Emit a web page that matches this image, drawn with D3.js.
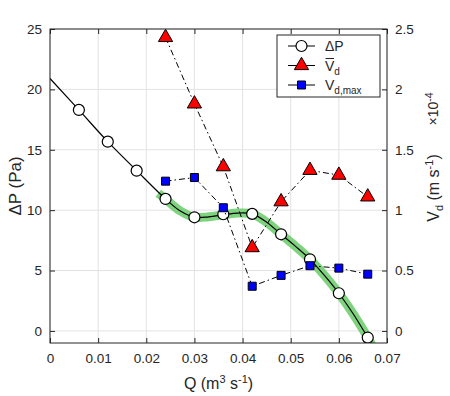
<!DOCTYPE html>
<html><head><meta charset="utf-8">
<script src="https://cdn.jsdelivr.net/npm/d3@7"></script>
<style>body{margin:0;background:#fff}svg{display:block}text{font-family:"Liberation Sans",Arial,Helvetica,sans-serif;fill:#262626}</style>
</head><body><div id="c"></div>
<script>
// ---- data ----
const Q = [0.006,0.012,0.018,0.024,0.030,0.036,0.042,0.048,0.054,0.060,0.066];
const dP = [18.3,15.67,13.27,10.93,9.41,9.66,9.69,8.0,5.93,3.12,-0.55];
const Qv = [0.024,0.030,0.036,0.042,0.048,0.054,0.060,0.066];
const VdMean = [2.43,1.88,1.36,0.69,1.07,1.33,1.29,1.11];
const VdMax = [1.24,1.27,1.02,0.37,0.46,0.54,0.52,0.47];
// fitted curve
const fitQ = [0,0.006,0.012,0.018,0.024,0.027,0.030,0.033,0.036,0.039,0.042,0.045,0.048,0.051,0.054,0.057,0.060,0.063,0.066];
const fitP = [20.9,18.3,15.67,13.27,10.93,9.95,9.41,9.45,9.62,9.76,9.69,9.0,8.0,7.0,5.93,4.6,3.12,1.4,-0.55];
const bandQ = [0.0225,0.024,0.027,0.030,0.033,0.036,0.039,0.042,0.045,0.048,0.051,0.054,0.057,0.060,0.063,0.066,0.068];
const bandP = [11.4,10.93,9.95,9.41,9.45,9.62,9.76,9.69,9.0,8.0,7.0,5.93,4.6,3.12,1.4,-0.55,-2.0];
const xTicks = [0,0.01,0.02,0.03,0.04,0.05,0.06,0.07];
const yTicksL = [0,5,10,15,20,25];
const yTicksR = [0,0.5,1,1.5,2,2.5];

const W=450,H=396, m={l:50,r:63,t:29,b:53};
const svg=d3.select("#c").append("svg").attr("width",W).attr("height",H);
const x=d3.scaleLinear().domain([0,0.07]).range([m.l,W-m.r]);
const yL=d3.scaleLinear().domain([-1,25]).range([H-m.b,m.t]);
const yR=d3.scaleLinear().domain([-0.1,2.5]).range([H-m.b,m.t]);
const ax="#262626";

// grid
const g=svg.append("g");
g.selectAll(".gx").data(xTicks).join("line").attr("x1",d=>x(d)).attr("x2",d=>x(d)).attr("y1",m.t).attr("y2",H-m.b).attr("stroke","#e3e3e3");
g.selectAll(".gy").data(yTicksL).join("line").attr("y1",d=>yL(d)).attr("y2",d=>yL(d)).attr("x1",m.l).attr("x2",W-m.r).attr("stroke","#e3e3e3");

svg.append("clipPath").attr("id","cp").append("rect").attr("x",m.l).attr("y",m.t).attr("width",W-m.l-m.r).attr("height",H-m.t-m.b);
const plot=svg.append("g").attr("clip-path","url(#cp)");

const lineL=d3.line().x(d=>x(d[0])).y(d=>yL(d[1])).curve(d3.curveCatmullRom);
plot.append("path").attr("d",lineL(d3.zip(bandQ,bandP))).attr("fill","none").attr("stroke","#7fd37f").attr("stroke-width",9).attr("stroke-linecap","butt");
plot.append("path").attr("d",lineL(d3.zip(fitQ,fitP))).attr("fill","none").attr("stroke","#000").attr("stroke-width",1.2);
plot.selectAll(".c").data(d3.zip(Q,dP)).join("circle").attr("cx",d=>x(d[0])).attr("cy",d=>yL(d[1])).attr("r",5.5).attr("fill","#fff").attr("stroke","#000").attr("stroke-width",1.2);

const lineR=d3.line().x(d=>x(d[0])).y(d=>yR(d[1]));
const dash="6,3,1.5,3";
plot.append("path").attr("d",lineR(d3.zip(Qv,VdMean))).attr("fill","none").attr("stroke","#000").attr("stroke-width",1).attr("stroke-dasharray",dash);
plot.append("path").attr("d",lineR(d3.zip(Qv,VdMax))).attr("fill","none").attr("stroke","#000").attr("stroke-width",1).attr("stroke-dasharray",dash);
const tri=d3.symbol().type(d3.symbolTriangle).size(88);
const sq=d3.symbol().type(d3.symbolSquare).size(64);
plot.selectAll(".t").data(d3.zip(Qv,VdMean)).join("path").attr("d",tri).attr("transform",d=>`translate(${x(d[0])},${yR(d[1])})`).attr("fill","#f00").attr("stroke","#000").attr("stroke-width",1);
plot.selectAll(".s").data(d3.zip(Qv,VdMax)).join("path").attr("d",sq).attr("transform",d=>`translate(${x(d[0])},${yR(d[1])})`).attr("fill","#00f").attr("stroke","#000").attr("stroke-width",1);

// axes box
const tl=5;
svg.append("rect").attr("x",m.l).attr("y",m.t).attr("width",W-m.l-m.r).attr("height",H-m.t-m.b).attr("fill","none").attr("stroke",ax).attr("stroke-width",1);
const xa=d3.axisBottom(x).tickValues(xTicks).tickSizeInner(-tl).tickSizeOuter(0).tickPadding(10).tickFormat(d=>d===0?"0":d3.format(".2f")(d));
svg.append("g").attr("transform",`translate(0,${H-m.b})`).call(xa);
svg.append("g").attr("transform",`translate(0,${m.t})`).call(d3.axisTop(x).tickValues(xTicks).tickSizeInner(-tl).tickSizeOuter(0).tickFormat(""));
svg.append("g").attr("transform",`translate(${m.l},0)`).call(d3.axisLeft(yL).tickValues(yTicksL).tickSizeInner(-tl).tickSizeOuter(0).tickPadding(8));
svg.append("g").attr("transform",`translate(${W-m.r},0)`).call(d3.axisRight(yR).tickValues(yTicksR).tickSizeInner(-tl).tickSizeOuter(0).tickPadding(8).tickFormat(d=>String(d)));
svg.selectAll(".domain").remove();
svg.selectAll(".tick line").attr("stroke",ax);
svg.selectAll(".tick text").style("font-size","13.5px").attr("fill",ax);

// axis labels
svg.append("text").attr("x",(m.l+W-m.r)/2).attr("y",389).attr("text-anchor","middle").style("font-size","16px")
 .html('Q (m<tspan dy="-6" font-size="11px">3</tspan><tspan dy="6"> s</tspan><tspan dy="-6" font-size="11px">-1</tspan><tspan dy="6">)</tspan>');
svg.append("text").attr("transform",`translate(21,${(m.t+H-m.b)/2}) rotate(-90)`).attr("text-anchor","middle").style("font-size","17px").text("ΔP (Pa)");
svg.append("text").attr("transform",`translate(439,188) rotate(-90)`).attr("text-anchor","middle").style("font-size","16px")
 .html('V<tspan dy="4" font-size="11px">d</tspan><tspan dy="-4"> (m s</tspan><tspan dy="-6" font-size="11px">-1</tspan><tspan dy="6">)</tspan>');
svg.append("text").attr("transform",`translate(438,109) rotate(-90)`).attr("text-anchor","middle").style("font-size","14px")
 .html('×10<tspan dy="-5" font-size="10.5px">-4</tspan>');

// legend
const lg=svg.append("g");
lg.append("rect").attr("x",277).attr("y",35).attr("width",103).attr("height",62).attr("fill","#fff").attr("stroke",ax).attr("stroke-width",1);
const rows=[46,65.5,85];
rows.forEach(r=>lg.append("line").attr("x1",288).attr("x2",315).attr("y1",r).attr("y2",r).attr("stroke","#000").attr("stroke-width",1));
lg.append("circle").attr("cx",301.5).attr("cy",rows[0]).attr("r",5.5).attr("fill","#fff").attr("stroke","#000").attr("stroke-width",1.2);
lg.append("path").attr("d",tri).attr("transform",`translate(301.5,${rows[1]})`).attr("fill","#f00").attr("stroke","#000");
lg.append("path").attr("d",sq).attr("transform",`translate(301.5,${rows[2]})`).attr("fill","#00f").attr("stroke","#000");
lg.append("text").attr("x",325).attr("y",rows[0]+5).style("font-size","14px").text("ΔP");
lg.append("text").attr("x",325).attr("y",rows[1]+5).style("font-size","14px").html('V<tspan dy="4" font-size="10px">d</tspan>');
lg.append("line").attr("x1",325.5).attr("x2",334).attr("y1",rows[1]-7).attr("y2",rows[1]-7).attr("stroke",ax).attr("stroke-width",1);
lg.append("text").attr("x",325).attr("y",rows[2]+5).style("font-size","14px").html('V<tspan dy="4" font-size="10px">d,max</tspan>');
</script></body></html>
